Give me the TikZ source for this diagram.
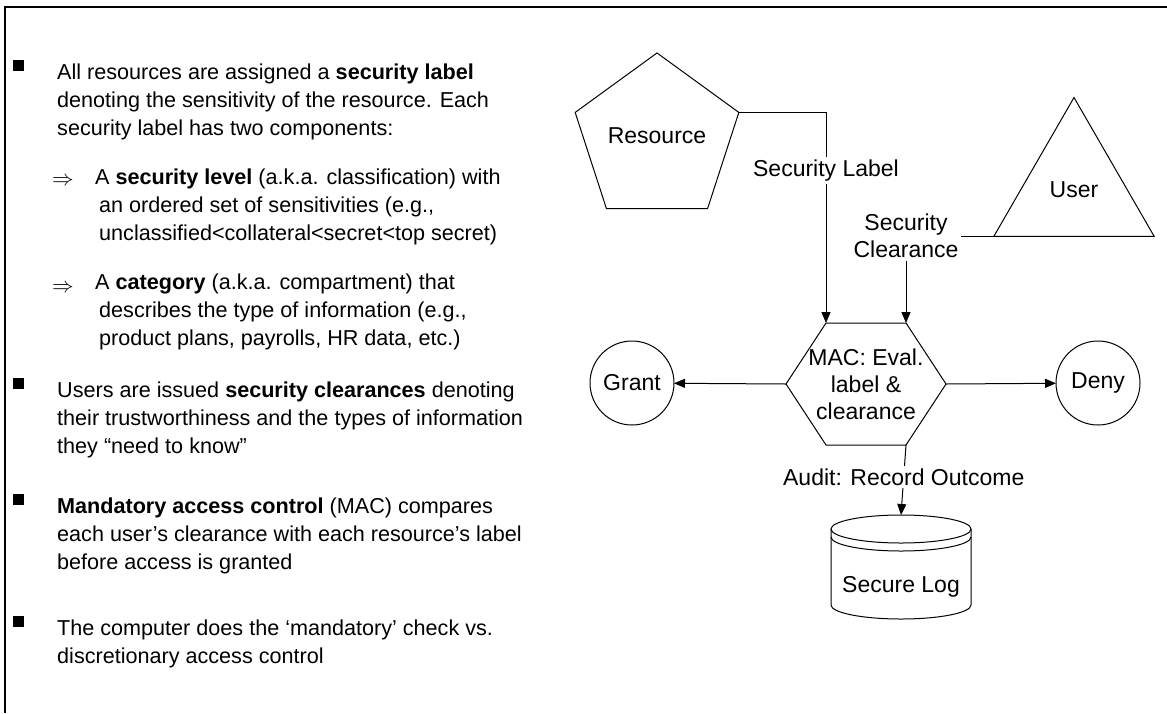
\RequirePackage{fix-cm}
\documentclass[tikz,border=0pt]{standalone}
\usepackage{fontspec}
\setmainfont{Liberation Sans}
\usetikzlibrary{shapes.geometric,arrows.meta,positioning,calc}

\begin{document}
\begin{tikzpicture}[
    x=1pt, y=-1pt,
    txt/.style={anchor=base west, align=left, inner sep=0pt, font=\fontsize{21.6}{28}\selectfont},
    fig/.style={draw, line width=1pt, inner sep=0pt, outer sep=0pt, font=\fontsize{23}{27}\selectfont},
    lbl/.style={fill=white, inner sep=3pt, align=center, font=\fontsize{23}{27}\selectfont},
    arrow/.style={-{Triangle[length=11pt, width=9pt]}, line width=1pt}
]
\useasboundingbox (0,0) rectangle (1167,713);
% frame
\draw[line width=2pt] (5,713) -- (5,6.5) -- (1167,6.5);

% bullet list (nodes placed at the baseline of their last line)
\foreach \yb in {79,397,513,635}
    \fill (13,\yb-19) rectangle ++(10.5,11);
\node[txt] (intro) at (57,135) {All resources are assigned a \textbf{security label}\\denoting the sensitivity of the resource. Each\\security label has two components:};
\node[txt] (ar1) at (52,185) {$\Rightarrow$};
\node[txt] (level) at (95,240) {A \textbf{security level} (a.k.a. classification) with\\\hspace*{4pt}an ordered set of sensitivities (e.g.,\\\hspace*{4pt}unclassified<collateral<secret<top secret)};
\node[txt] (ar2) at (52,292) {$\Rightarrow$};
\node[txt] (category) at (95,345) {A \textbf{category} (a.k.a. compartment) that\\\hspace*{4pt}describes the type of information (e.g.,\\\hspace*{4pt}product plans, payrolls, HR data, etc.)};
\node[txt] (users) at (57,453) {Users are issued \textbf{security clearances} denoting\\their trustworthiness and the types of information\\they “need to know”};
\node[txt] (mandatory) at (57,569) {\textbf{Mandatory access control} (MAC) compares\\each user’s clearance with each resource’s label\\before access is granted};
\node[txt] (computer) at (57,663) {The computer does the ‘mandatory’ check vs.\\discretionary access control};

% diagram
\node[fig, regular polygon, regular polygon sides=5, minimum size=154] (res) at (657,139) {\raisebox{6pt}{Resource}};
\node[fig, regular polygon, regular polygon sides=3, minimum size=185] (user) at (1074,190) {User};
\node[fig, draw=none, minimum width=160, minimum height=122, align=center] (mac) at (866,384) {MAC: Eval.\\label \&\\clearance};
\draw[line width=1pt] (mac.west) -- ([xshift=40pt]mac.north west) -- ([xshift=-40pt]mac.north east)
    -- (mac.east) -- ([xshift=-40pt]mac.south east) -- ([xshift=40pt]mac.south west) -- cycle;
\node[fig, circle, minimum size=84] (grant) at (632,383) {Grant};
\node[fig, circle, minimum size=84] (deny) at (1098,383) {Deny};

% secure log cylinder
\draw[line width=1pt] (831,529) -- (831,605) arc[start angle=180, end angle=0, x radius=70, y radius=14] -- (971,529);
\draw[line width=1pt] (901,529) ellipse [x radius=70, y radius=14];
\draw[line width=1pt] (831,537) arc[start angle=180, end angle=0, x radius=70, y radius=14];
\coordinate (logtop) at (901,515);
\node[fig, draw=none] (log) at (901,587) {Secure Log};

\draw[arrow] (res.corner 5) -| node[lbl, pos=0.638] (seclabel) {Security Label} ([xshift=40pt]mac.north west);
\draw[arrow] (user.corner 2) -| node[lbl] (secclear) {Security\\Clearance} ([xshift=-40pt]mac.north east);
\draw[arrow] (mac.west) -- (grant);
\draw[arrow] (mac.east) -- (deny);
\draw[arrow] ([xshift=-40pt]mac.south east) -- node[lbl, pos=0.457] (audit) {Audit: Record Outcome} (logtop);
\end{tikzpicture}
\end{document}
